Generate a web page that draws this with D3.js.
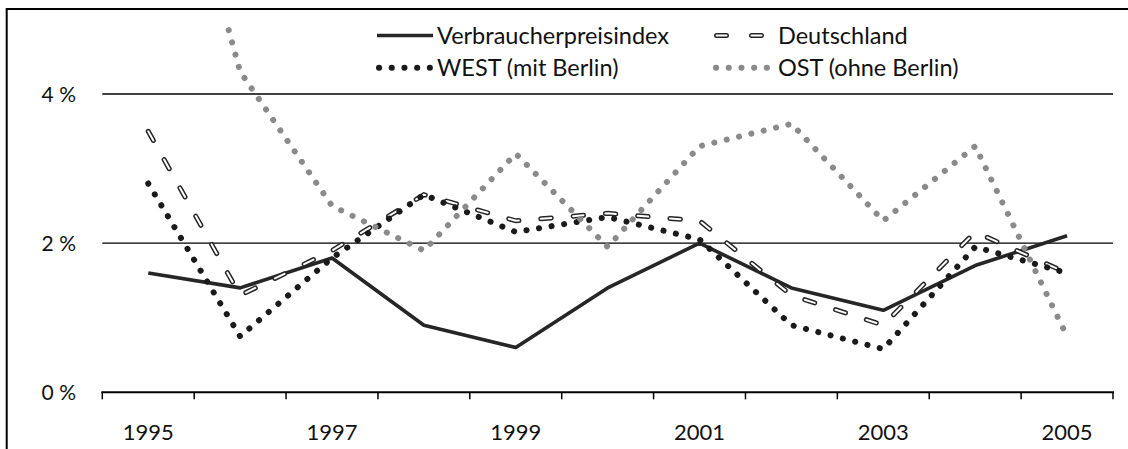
<!DOCTYPE html>
<html>
<head>
<meta charset="utf-8">
<script src="https://cdn.jsdelivr.net/npm/d3@7"></script>
<style>
body{margin:0;background:#fff;}
text{font-family:Lato,"Open Sans",sans-serif;fill:#111;}
</style>
</head>
<body>
<svg id="chart"></svg>
<script>
// data (percent)
var years = [1995,1996,1997,1998,1999,2000,2001,2002,2003,2004,2005];
var vpi = [1.6,1.4,1.8,0.9,0.6,1.4,2.0,1.4,1.1,1.7,2.1];
var deutschland = [3.5,1.3,1.9,2.65,2.3,2.4,2.3,1.3,0.9,2.15,1.6];
var west = [2.8,0.75,1.8,2.65,2.15,2.35,2.05,0.9,0.58,1.95,1.6];
var ost = [8.8,4.3,2.5,1.9,3.2,1.95,3.3,3.6,2.3,3.3,0.75];
var yTicks = [0,2,4];
var labelYears = [1995,1997,1999,2001,2003,2005];
var seriesNames = ["Verbraucherpreisindex","Deutschland","WEST (mit Berlin)","OST (ohne Berlin)"];

var width = 1128, height = 449;
var svg = d3.select("#chart").attr("width",width).attr("height",height);

var x = d3.scaleBand().domain(years).range([102.3,1113]).padding(0);
var y = d3.scaleLinear().domain([0,4.9]).range([392.3,26.9]);

// frame
svg.append("rect")
  .attr("x",6.7).attr("y",9).attr("width",1300).attr("height",600)
  .attr("fill","none").attr("stroke","#000").attr("stroke-width",2);

// gridlines
svg.append("g").selectAll("line")
  .data(yTicks.filter(function(d){return d>0;}))
  .enter().append("line")
  .attr("x1",x.range()[0]).attr("x2",x.range()[1])
  .attr("y1",function(d){return y(d);}).attr("y2",function(d){return y(d);})
  .attr("stroke","#000").attr("stroke-width",1.3);

// y labels
svg.append("g").selectAll("text")
  .data(yTicks).enter().append("text")
  .attr("x",76).attr("y",function(d){return y(d);})
  .attr("dy","0.36em")
  .attr("text-anchor","end")
  .style("font-size","21px")
  .text(function(d){return d + " %";});

// x axis
var xAxis = svg.append("g");
xAxis.append("line")
  .attr("x1",x.range()[0]-1).attr("x2",x.range()[1]+1)
  .attr("y1",y(0)).attr("y2",y(0))
  .attr("stroke","#000").attr("stroke-width",2);
var bounds = years.map(function(d){return x(d);}).concat([x.range()[1]]);
xAxis.selectAll(".tk").data(bounds).enter().append("line")
  .attr("class","tk")
  .attr("x1",function(d){return d;}).attr("x2",function(d){return d;})
  .attr("y1",y(0)).attr("y2",y(0)+7)
  .attr("stroke","#000").attr("stroke-width",1.5);
xAxis.selectAll(".lbl").data(labelYears).enter().append("text")
  .attr("class","lbl")
  .attr("x",function(d){return x(d)+x.bandwidth()/2;})
  .attr("y",440)
  .attr("text-anchor","middle")
  .style("font-size","22px")
  .text(function(d){return d;});

// clip for plot area
svg.append("clipPath").attr("id","plotclip")
  .append("rect").attr("x",0).attr("y",y.range()[1])
  .attr("width",width).attr("height",y.range()[0]-y.range()[1]+10);

var line = d3.line()
  .x(function(d,i){return x(years[i])+x.bandwidth()/2;})
  .y(function(d){return y(d);});

var plot = svg.append("g").attr("clip-path","url(#plotclip)");

function styleSeries(sel, k){
  if(k===0){
    sel.append("path").attr("fill","none").attr("stroke","#262626")
      .attr("stroke-width",3.6).attr("stroke-linejoin","round");
  } else if(k===1){
    sel.append("path").attr("fill","none").attr("stroke","#262626")
      .attr("stroke-width",5).attr("stroke-linecap","round")
      .attr("stroke-dasharray","10.5,21.9");
    sel.append("path").attr("fill","none").attr("stroke","#fff")
      .attr("stroke-width",2).attr("stroke-linecap","round")
      .attr("stroke-dasharray","10.5,21.9");
  } else {
    sel.append("path").attr("fill","none")
      .attr("stroke", k===2 ? "#1a1a1a" : "#8a8a8a")
      .attr("stroke-width",6).attr("stroke-linecap","round")
      .attr("stroke-dasharray","0.1,12.6");
  }
}

[vpi,deutschland,west,ost].forEach(function(s,k){
  var g = plot.append("g");
  styleSeries(g,k);
  g.selectAll("path").attr("d",line(s));
});

// legend
var legendPos = [
  {sx:377, tx:437, cy:35.5},
  {sx:714, tx:778, cy:35.5},
  {sx:377, tx:437, cy:67.7},
  {sx:714, tx:778, cy:67.7}
];
seriesNames.forEach(function(name,k){
  var p = legendPos[k];
  var g = svg.append("g");
  styleSeries(g,k);
  g.selectAll("path").attr("d","M"+(p.sx+ (k>=2?2:0))+","+p.cy+"H"+(p.sx+56));
  if(k===1){
    g.selectAll("path").attr("d","M"+(p.sx+2.5)+","+p.cy+"H"+(p.sx+50))
      .attr("stroke-dasharray","10,25");
  }
  g.append("text").attr("x",p.tx).attr("y",p.cy).attr("dy","0.36em")
    .style("font-size","23.5px").text(name);
});
</script>
</body>
</html>
